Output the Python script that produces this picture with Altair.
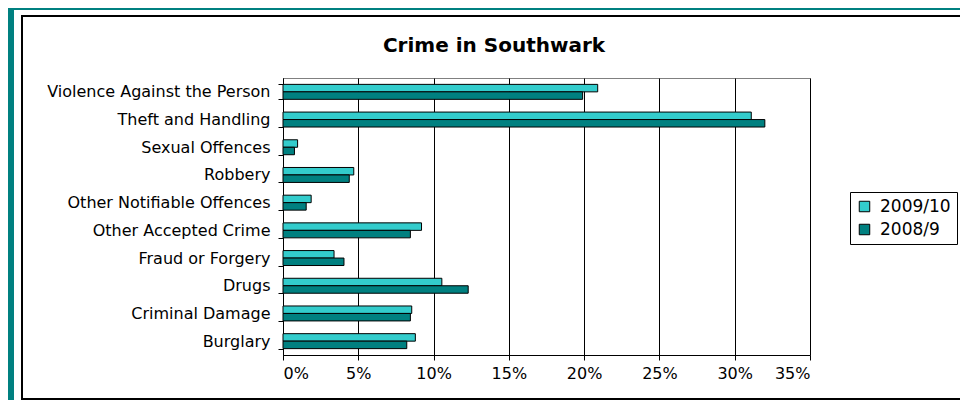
import altair as alt
import pandas as pd

categories = [
    "Violence Against the Person",
    "Theft and Handling",
    "Sexual Offences",
    "Robbery",
    "Other Notifiable Offences",
    "Other Accepted Crime",
    "Fraud or Forgery",
    "Drugs",
    "Criminal Damage",
    "Burglary",
]
years = ["2009/10", "2008/9"]
share_2009_10 = [20.9, 31.1, 0.97, 4.7, 1.87, 9.2, 3.39, 10.55, 8.55, 8.79]
share_2008_9 = [19.9, 32.0, 0.76, 4.4, 1.54, 8.46, 4.05, 12.3, 8.46, 8.22]
x_ticks = [0, 0.05, 0.10, 0.15, 0.20, 0.25, 0.30, 0.35]
colors = ["#33CCCC", "#008080"]
title_text = "Crime in Southwark"

rows = []
for c, a, b in zip(categories, share_2009_10, share_2008_9):
    rows.append({"Category": c, "Year": years[0], "Share": a / 100})
    rows.append({"Category": c, "Year": years[1], "Share": b / 100})
df = pd.DataFrame(rows)
dummy = pd.DataFrame({"d": [0]})

FONT = "DejaVu Sans"

frame = alt.Chart(dummy).mark_rect(filled=False, stroke="black", strokeWidth=2).encode(
    x=alt.value(-261), x2=alt.value(680), y=alt.value(-62), y2=alt.value(321)
)
teal_left = alt.Chart(dummy).mark_rect(color="#008080").encode(
    x=alt.value(-275), x2=alt.value(-269), y=alt.value(-70), y2=alt.value(322)
)
teal_top = alt.Chart(dummy).mark_rect(color="#008080").encode(
    x=alt.value(-275), x2=alt.value(685), y=alt.value(-70), y2=alt.value(-68)
)
title = alt.Chart(dummy).mark_text(
    text=title_text,
    font=FONT,
    fontSize=20,
    fontWeight="bold",
    color="black",
    align="center",
    baseline="middle",
).encode(x=alt.value(211), y=alt.value(-32))

bars = alt.Chart(df).mark_bar(stroke="black", strokeWidth=1).encode(
    y=alt.Y(
        "Category:N",
        sort=categories,
        scale=alt.Scale(paddingInner=0.46, paddingOuter=0.23),
        axis=alt.Axis(
            title=None,
            tickBand="extent",
            labelFont=FONT,
            labelFontSize=16,
            labelColor="black",
            labelLimit=400,
            domainColor="black",
            tickColor="black",
            tickSize=5,
            labelPadding=8,
            grid=False,
        ),
    ),
    yOffset=alt.YOffset("Year:N", sort=years, scale=alt.Scale(paddingInner=0, paddingOuter=0)),
    x=alt.X(
        "Share:Q",
        scale=alt.Scale(domain=[0, 0.35], nice=False),
        axis=alt.Axis(
            values=x_ticks,
            format=".0%",
            title=None,
            grid=True,
            gridColor="black",
            gridWidth=1,
            gridOpacity=1,
            domainColor="black",
            tickColor="black",
            tickSize=5,
            labelFont=FONT,
            labelFontSize=16,
            labelColor="black",
            labelPadding=5,
        ),
    ),
    color=alt.Color(
        "Year:N",
        sort=years,
        scale=alt.Scale(domain=years, range=colors),
        legend=alt.Legend(
            title=None,
            orient="none",
            legendX=567,
            legendY=114,
            strokeColor="black",
            fillColor="white",
            padding=6,
            symbolType="square",
            symbolSize=110,
            symbolStrokeColor="black",
            symbolStrokeWidth=1,
            labelFont=FONT,
            labelFontSize=17,
            labelColor="black",
            rowPadding=5,
            labelOffset=7,
        ),
    ),
)

chart = (
    alt.layer(teal_left, teal_top, frame, title, bars)
    .properties(
        width=527,
        height=277,
        autosize=alt.AutoSizeParams(type="none"),
        padding={"left": 275, "top": 70, "right": 150, "bottom": 45},
        background="white",
    )
    .configure_view(stroke="#808080", strokeWidth=1)
)

chart.save("out.html", embed_options={"renderer": "svg", "actions": False})
